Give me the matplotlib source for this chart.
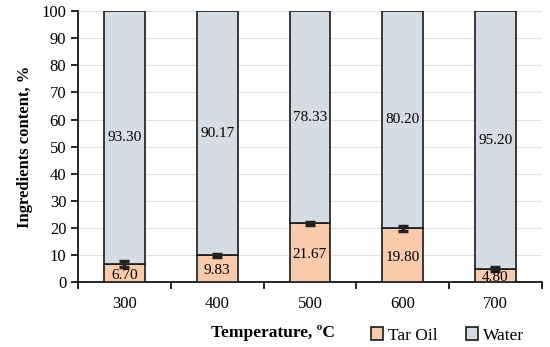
import matplotlib.pyplot as plt
import numpy as np

plt.rcParams['font.family'] = ['Liberation Serif', 'DejaVu Serif']

temps = ['300', '400', '500', '600', '700']
tar_oil = [6.70, 9.83, 21.67, 19.80, 4.80]
water = [93.30, 90.17, 78.33, 80.20, 95.20]
tar_err = [1.2, 0.5, 0.6, 1.0, 0.6]

fig = plt.figure(figsize=(5.5, 3.47), dpi=100)
ax = fig.add_axes([0.142, 0.187, 0.843, 0.781])

x = np.arange(len(temps))
w = 0.44
ax.bar(x, tar_oil, w, color='#F8CBAD', edgecolor='#1a1a1a', linewidth=1.2,
       label='Tar Oil', zorder=3)
ax.bar(x, water, w, bottom=tar_oil, color='#D6DCE4', edgecolor='#1a1a1a',
       linewidth=1.2, label='Water', zorder=3)
ax.errorbar(x, tar_oil, yerr=tar_err, fmt='none', ecolor='#222222',
            elinewidth=2.5, capsize=3.5, capthick=2.5, zorder=4)

for i in range(len(temps)):
    ax.text(x[i], tar_oil[i] / 2 - 0.8, f'{tar_oil[i]:.2f}', ha='center',
            va='center', fontsize=11, zorder=5)
    ax.text(x[i], tar_oil[i] + water[i] / 2, f'{water[i]:.2f}', ha='center',
            va='center', fontsize=11, zorder=5)

ax.set_xlim(-0.5, len(temps) - 0.5)
ax.set_ylim(0, 100)
ax.set_yticks(range(0, 101, 10))
ax.yaxis.grid(True, color='#E0E0E0', linewidth=0.8, zorder=0)
ax.set_xticks(x)
ax.set_xticklabels(temps, fontsize=12)
ax.tick_params(axis='x', length=0, pad=10)
ax.set_xticks(np.arange(-0.5, len(temps)), minor=True)
ax.tick_params(axis='x', which='minor', length=5, width=1.2, direction='out')
ax.tick_params(axis='y', labelsize=12, length=5, width=1.2, direction='out')

for s in ['top', 'right']:
    ax.spines[s].set_visible(False)
for s in ['left', 'bottom']:
    ax.spines[s].set_linewidth(1.2)

ax.set_ylabel('Ingredients content, %', fontsize=12, fontweight='bold', labelpad=6)
fig.text(0.496, 0.04, 'Temperature, ºC', fontsize=12.5, fontweight='bold',
         ha='center', va='center')

ax.legend(loc='center', bbox_to_anchor=(0.797, -0.197), ncol=2, frameon=False,
          fontsize=12.5, handlelength=0.7, handleheight=0.7, handletextpad=0.3,
          columnspacing=1.6)

fig.savefig('out.png', dpi=100)
